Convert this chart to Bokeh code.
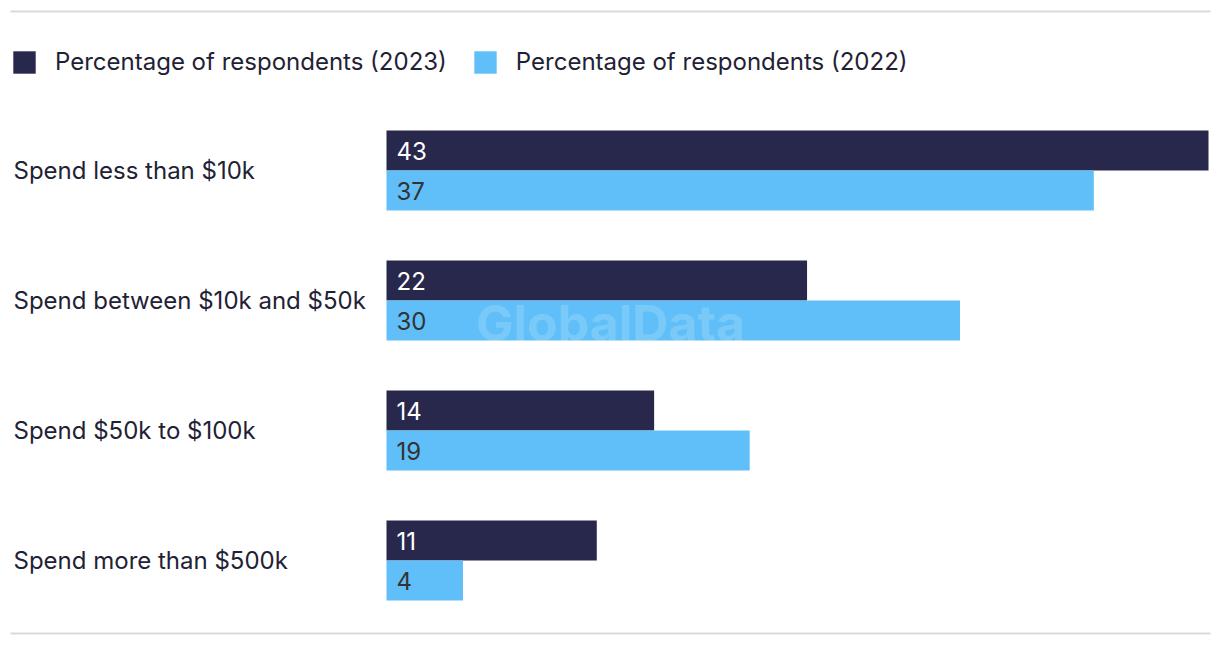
from bokeh.plotting import figure
from bokeh.models import Range1d, ColumnDataSource, Legend, LegendItem
from bokeh.core.properties import value
from bokeh.embed import file_html
from bokeh.resources import INLINE

categories = ["Spend less than $10k", "Spend between $10k and $50k",
              "Spend $50k to $100k", "Spend more than $500k"]
values_2023 = [43, 22, 14, 11]
values_2022 = [37, 30, 19, 4]
series_names = ["Percentage of respondents (2023)", "Percentage of respondents (2022)"]

DARK = "#28284D"
LIGHT = "#60BFF8"
TEXT = "#1F2235"
FONT = "Inter"
FS = "24px"

W, H = 1212, 638
PAGE = 0
ppu = 822 / 43.0          # pixels per percentage point
bar_left = 386            # px where value 0 sits
x_start = -(bar_left - PAGE) / ppu
x_end = (PAGE + W - bar_left) / ppu
pitch = 130.0
g0 = 170.0                # px of first group center
y_top = (PAGE - g0) / pitch
y_bot = (PAGE + H - g0) / pitch
bar_h = 40 / pitch

p = figure(width=W, height=H, output_backend="svg", toolbar_location=None,
           x_range=Range1d(x_start, x_end), y_range=Range1d(y_bot, y_top),
           x_axis_type=None, y_axis_type=None, min_border=0)
p.outline_line_color = None
p.xgrid.visible = False
p.ygrid.visible = False

idx = list(range(len(categories)))
src = ColumnDataSource(dict(
    y23=[i - bar_h / 2 for i in idx], y22=[i + bar_h / 2 for i in idx],
    v23=values_2023, v22=values_2022,
    t23=[str(v) for v in values_2023], t22=[str(v) for v in values_2022],
    cy=idx, cat=categories))

r23 = p.hbar(y="y23", right="v23", left=0, height=bar_h, source=src,
             fill_color=DARK, line_color=None)
r22 = p.hbar(y="y22", right="v22", left=0, height=bar_h, source=src,
             fill_color=LIGHT, line_color=None)

# watermark
p.text(x=[x_start + (610 - PAGE) / ppu], y=[(322 - g0) / pitch], text=["GlobalData"],
       text_font=value(FONT), text_font_style="bold", text_font_size="50px",
       text_color="white", text_alpha=0.16, text_align="center", text_baseline="middle")

# value labels
p.text(x=0, y="y23", text="t23", source=src, x_offset=10, text_font=value(FONT),
       text_font_size=FS, text_color="white", text_baseline="middle", text_align="left")
p.text(x=0, y="y22", text="t22", source=src, x_offset=10, text_font=value(FONT),
       text_font_size=FS, text_color="#333333", text_baseline="middle", text_align="left")

# category labels
p.text(x=x_start + (13 - PAGE) / ppu, y="cy", text="cat", source=src, text_font=value(FONT),
       text_font_size=FS, text_color=TEXT, text_baseline="middle", text_align="left")

# rules top and bottom
ly = [(11 - g0) / pitch, (633 - g0) / pitch]
p.segment(x0=x_start + (10 - PAGE) / ppu, x1=x_start + (1210 - PAGE) / ppu, y0=ly, y1=ly,
          line_color="#D9D9D9", line_width=2)

legend = Legend(items=[LegendItem(label=series_names[0], renderers=[r23]),
                       LegendItem(label=series_names[1], renderers=[r22])],
                location=(10 - PAGE, H - (76 - PAGE)), orientation="horizontal",
                glyph_width=28, glyph_height=28, label_standoff=17, spacing=24,
                padding=0, margin=0, border_line_color=None, background_fill_alpha=0,
                label_text_font=FONT, label_text_font_size=FS, label_text_color=TEXT)
p.add_layout(legend)

open("out.html", "w").write(file_html(p, INLINE))
